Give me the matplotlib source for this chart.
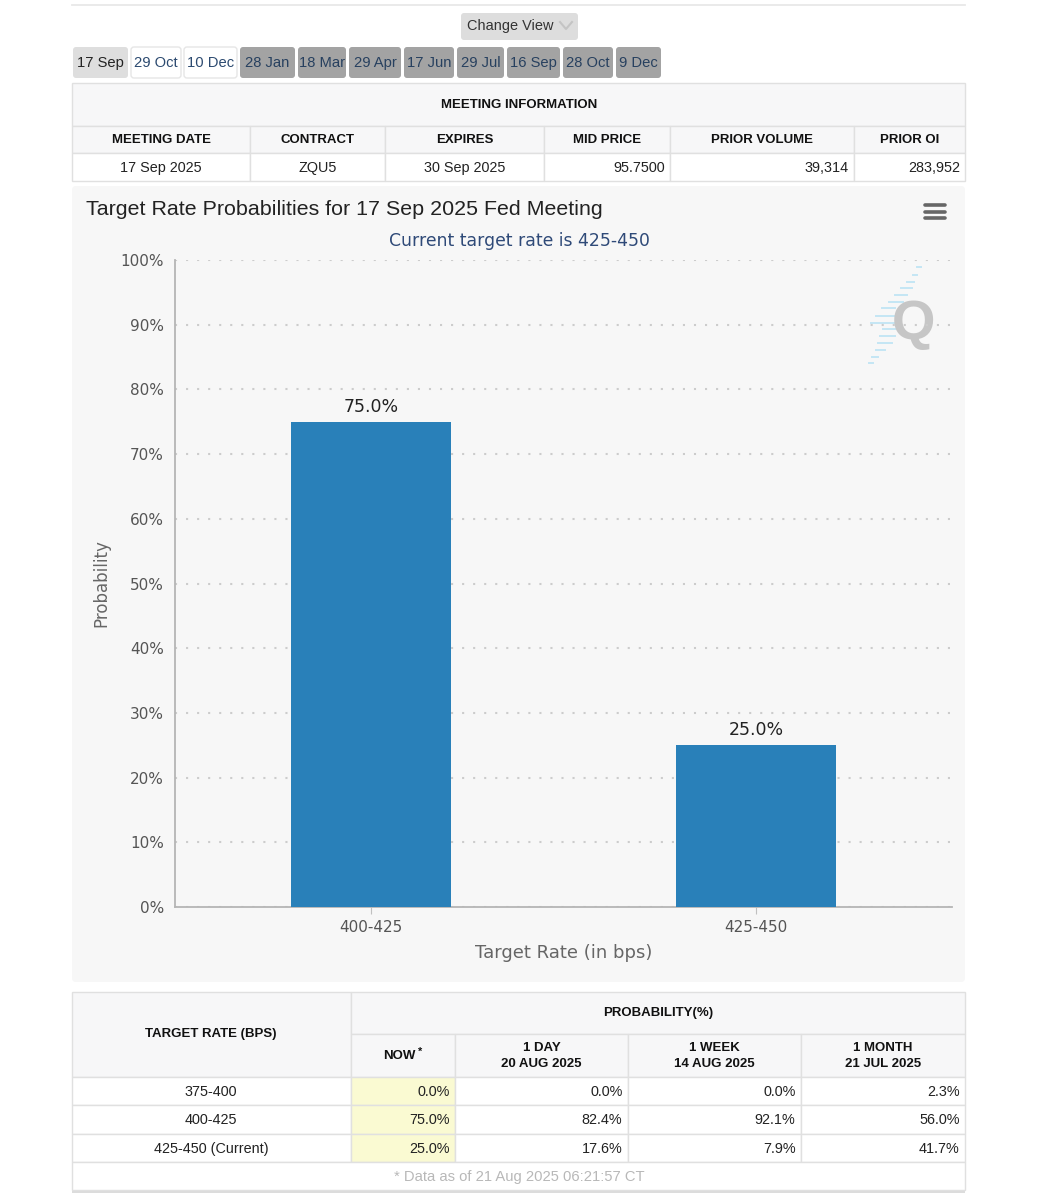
import matplotlib
matplotlib.use('Agg')
import matplotlib.pyplot as plt
from matplotlib.patches import Rectangle, FancyBboxPatch

W, H = 1038, 1200
SANS = 'Liberation Sans'
LINE = '#e0e0e0'
HEAD = '#f7f7f8'
BOLD = 13.2

# chart data
rates = ['400-425', '425-450']
probs = [75.0, 25.0]
y_ticks = [0, 10, 20, 30, 40, 50, 60, 70, 80, 90, 100]

# meeting tabs
tab_labels = ['17 Sep', '29 Oct', '10 Dec', '28 Jan', '18 Mar', '29 Apr', '17 Jun', '29 Jul', '16 Sep', '28 Oct', '9 Dec']
tab_left = [73, 131, 184, 240, 298, 349, 404, 457, 507, 563, 616]
tab_right = [128, 181, 237, 295, 346, 401, 454, 504, 560, 613, 661]

# meeting info table
info_head = ['MEETING DATE', 'CONTRACT', 'EXPIRES', 'MID PRICE', 'PRIOR VOLUME', 'PRIOR OI']
info_row = ['17 Sep 2025', 'ZQU5', '30 Sep 2025', '95.7500', '39,314', '283,952']
info_cols = [72, 250, 385, 544, 670, 854, 965]

# probability table
prob_rows = ['375-400', '400-425', '425-450 (Current)']
prob_now = ['0.0%', '75.0%', '25.0%']
prob_day = ['0.0%', '82.4%', '17.6%']
prob_week = ['0.0%', '92.1%', '7.9%']
prob_month = ['2.3%', '56.0%', '41.7%']

fig = plt.figure(figsize=(W / 100, H / 100), dpi=100, facecolor='white')
page = fig.add_axes([0, 0, 1, 1])
page.set_xlim(0, W)
page.set_ylim(H, 0)
page.axis('off')


def box(x0, y0, x1, y1, fc='white', ec=LINE, lw=1.0, z=1):
    page.add_patch(Rectangle((x0, y0), x1 - x0, y1 - y0, fc=fc, ec=ec, lw=lw, zorder=z))


def txt(x, y, s, size=14.5, color='#222222', ha='center', weight='normal', family=SANS):
    page.text(x, y - 1.2, s, fontsize=size * 0.72, color=color, ha=ha, va='center_baseline',
              fontweight=weight, family=family, zorder=5)


def rbox(x0, y0, x1, y1, fc, ec='none', lw=1):
    page.add_patch(FancyBboxPatch((x0 + 3, y0 + 3), x1 - x0 - 6, y1 - y0 - 6,
                                  boxstyle='round,pad=3,rounding_size=3', fc=fc, ec=ec, lw=lw, zorder=2))


# top rule and change view button
page.plot([72, 965], [4.5, 4.5], color='#e8e8e8', lw=1.3)
rbox(461, 13, 578, 40, '#dddddd')
txt(510, 25.5, 'Change View', 14.5, '#333333')
page.plot([560, 566, 572], [22, 29, 22], color='#c4c4c4', lw=1.5, zorder=5)

# tabs
for i, lab in enumerate(tab_labels):
    if i == 0:
        rbox(tab_left[i], 47, tab_right[i], 78, '#dedede')
        c = '#222222'
    elif i < 3:
        rbox(tab_left[i], 47, tab_right[i], 78, 'white', ec='#e6e6e6')
        c = '#2c4a70'
    else:
        rbox(tab_left[i], 47, tab_right[i], 78, '#a3a3a3')
        c = '#27405f'
    txt((tab_left[i] + tab_right[i]) / 2, 62.5, lab, 14.8, c)

# meeting information table
box(72, 83, 965, 126, HEAD)
txt(519, 105, 'MEETING INFORMATION', BOLD, '#111111', weight='bold')
for i, lab in enumerate(info_head):
    box(info_cols[i], 126, info_cols[i + 1], 153, HEAD)
    txt((info_cols[i] + info_cols[i + 1]) / 2, 139.5, lab, BOLD, '#111111', weight='bold')
    box(info_cols[i], 153, info_cols[i + 1], 181, 'white')
    if i < 3:
        txt((info_cols[i] + info_cols[i + 1]) / 2, 167.5, info_row[i], 14.4)
    else:
        txt(info_cols[i + 1] - 5, 167.5, info_row[i], 14.4, ha='right')

# chart panel
page.add_patch(FancyBboxPatch((76, 190), 885, 788, boxstyle='round,pad=4,rounding_size=4',
                              fc='#f7f7f7', ec='none', zorder=0))
txt(86, 208.5, 'Target Rate Probabilities for 17 Sep 2025 Fed Meeting', 21.4, '#222222', ha='left')
txt(519, 240.5, 'Current target rate is 425-450', 17.2, '#2f4a78', family='DejaVu Sans')
for y in [205, 211.5, 218]:
    page.plot([925, 945], [y, y], color='#666666', lw=2.6, solid_capstyle='round', zorder=5)

# logo watermark
logo_rows = [267, 275, 282, 288, 295, 302, 308, 316, 323, 329, 336, 343, 350, 357, 363]
logo_left = [917, 913, 907, 901, 895, 889, 882, 876, 871, 883, 880, 878, 876, 872, 869]
logo_right = [921, 917, 914, 912, 907, 903, 895, 895, 895, 895, 895, 892, 885, 878, 873]
for y, a, b in zip(logo_rows, logo_left, logo_right):
    page.plot([a, b], [y, y], color='#c4e6f4', lw=1.4, zorder=1)
txt(913, 320, 'Q', 56, '#c6c6c6', weight='bold')

# chart
ax = fig.add_axes([175 / W, 1 - 907 / H, (952 - 175) / W, (907 - 260) / H])
ax.patch.set_alpha(0)
x = list(range(len(rates)))
bars = ax.bar(x, probs, width=0.414, color='#2980b9', zorder=3)
ax.set_xlim(-0.509, 1.509)
ax.set_ylim(0, 100)
ax.set_xticks(x)
ax.set_xticklabels(rates, fontsize=11, color='#555555')
ax.set_yticks(y_ticks)
ax.set_yticklabels([str(v) + '%' for v in y_ticks], fontsize=11, color='#555555')
ax.tick_params(axis='y', length=0, pad=8)
ax.tick_params(axis='x', length=5, color='#c0c0c0', pad=4)
ax.grid(axis='y', color='#cccccc', linestyle=(0, (1, 4.3)), lw=1.5, zorder=0)
for s in ['top', 'right']:
    ax.spines[s].set_visible(False)
for s in ['left', 'bottom']:
    ax.spines[s].set_color('#b5b5b5')
    ax.spines[s].set_linewidth(1.3)
ax.set_xlabel('Target Rate (in bps)', fontsize=13, color='#666666', labelpad=7)
ax.set_ylabel('Probability', fontsize=12, color='#666666', labelpad=7)
for r, v in zip(bars, probs):
    ax.text(r.get_x() + r.get_width() / 2, v + 0.95, '%.1f%%' % v, ha='center', va='bottom',
            fontsize=12.5, color='#222222')

# probability table
box(72, 992, 351, 1077, HEAD)
txt(211, 1033.5, 'TARGET RATE (BPS)', BOLD, '#111111', weight='bold')
box(351, 992, 965, 1034, HEAD)
txt(658, 1013, 'PROBABILITY(%)', BOLD, '#111111', weight='bold')
cols = [351, 455, 628, 801, 965]
heads = [('NOW', ''), ('1 DAY', '20 AUG 2025'), ('1 WEEK', '14 AUG 2025'), ('1 MONTH', '21 JUL 2025')]
for i in range(4):
    box(cols[i], 1034, cols[i + 1], 1077, HEAD)
    mid = (cols[i] + cols[i + 1]) / 2
    if i == 0:
        txt(mid - 4, 1055.5, heads[i][0], BOLD, '#111111', weight='bold')
        txt(mid + 17, 1052, '*', 11, '#111111', weight='bold')
    else:
        txt(mid, 1048, heads[i][0], BOLD, '#111111', weight='bold')
        txt(mid, 1063.5, heads[i][1], BOLD, '#111111', weight='bold')

row_y = [1077, 1105, 1134, 1162]
for r in range(3):
    box(72, row_y[r], 351, row_y[r + 1], 'white')
    txt(211, (row_y[r] + row_y[r + 1]) / 2 + 0.5, prob_rows[r], 14.4)
    vals = [prob_now[r], prob_day[r], prob_week[r], prob_month[r]]
    for i in range(4):
        box(cols[i], row_y[r], cols[i + 1], row_y[r + 1], '#fafad2' if i == 0 else 'white')
        txt(cols[i + 1] - 5.5, (row_y[r] + row_y[r + 1]) / 2 + 0.5, vals[i], 14.4, ha='right')

page.add_patch(Rectangle((72, 1189), 893, 4, fc='#dcdcdc', ec='none', zorder=0))
box(72, 1162, 965, 1190, 'white')
txt(519, 1176.5, '* Data as of 21 Aug 2025 06:21:57 CT', 14.8, '#b8b8b8')

fig.savefig('out.png', dpi=100)
